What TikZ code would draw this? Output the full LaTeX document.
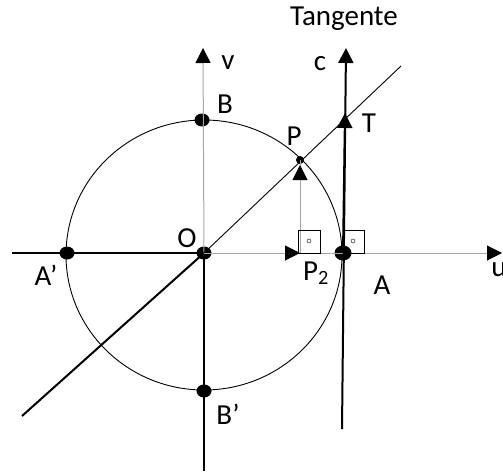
\documentclass[tikz,border=0pt]{standalone}
\usepackage{fontspec}
\setmainfont{Carlito}
\usetikzlibrary{arrows.meta, shapes.geometric}
\begin{document}
\begin{tikzpicture}[x=1pt, y=-1pt,
    dot/.style={fill=black, ellipse, inner sep=0pt, minimum width=15pt, minimum height=13pt},
    lbl/.style={font=\fontsize{29}{31}\selectfont, inner sep=0pt},
    tip/.style={-{Triangle[width=15pt, length=15pt, black]}},
    axis/.style={gray!70, line width=1pt},
    heavy/.style={line width=2pt}]
    \useasboundingbox (0,0) rectangle (503,471);
    % unit circle
    \draw[line width=0.9pt] (204,255) ellipse [x radius=138pt, y radius=135pt];
    % points on the circle
    \node[dot] (o) at (204,253) {};
    \node[dot] (a1) at (67,253) {};
    \node[dot] (b) at (202,120) {};
    \node[dot] (b1) at (204,391) {};
    \node[dot, minimum width=17pt, minimum height=15pt] (a) at (343,253) {};
    \node[dot, minimum width=8pt, minimum height=8pt] (p) at (300,160) {};
    \coordinate (p2) at (300,253);
    \coordinate (t) at (345,113);
    % free ends
    \coordinate (west) at (12,253);
    \coordinate (u) at (502,253);
    \coordinate (v) at (203,48);
    \coordinate (south) at (204,471);
    \coordinate (sw) at (22,416);
    \coordinate (ne) at (401,66);
    \coordinate (tbot) at (342,429);
    \coordinate (c) at (346,48);
    % axes
    \draw[heavy] (west) -- (o.center);
    \draw[axis, tip] (o.center) -- (u);
    \draw[axis, tip] (o.center) -- (v);
    \draw[heavy] (o.center) -- (south);
    % line through O and P
    \draw[heavy] (sw) -- (o.center);
    \draw[line width=0.9pt] (o.center) -- (ne);
    % tangent at A
    \draw[heavy, tip] (tbot) -- (c);
    \draw[heavy, tip] (a.center) -- (t);
    % projection of P
    \draw[axis] (p2) -- (p.center);
    \draw[axis, tip] (p2) -- ([yshift=-5pt]p.center);
    \draw[axis, tip] (o.center) -- (p2);
    % right angles
    \draw (298,230) rectangle (320,253);
    \draw (309,241) circle (2pt);
    \draw (343,230) rectangle (364,253);
    \draw (353,241) circle (2pt);
    % labels
    \node[lbl] (lt) at (344,19) {Tangente};
    \node[lbl] (lc) at (320,64) {c};
    \node[lbl] (lv) at (228,63) {v};
    \node[lbl] (lu) at (499,270) {u};
    \node[lbl] (ltt) at (369,123) {T};
    \node[lbl] (lp) at (294,136) {P};
    \node[lbl] (lp2) at (316,273) {P\textsubscript{2}};
    \node[lbl] (lo) at (187,238) {O};
    \node[lbl] (la) at (382,285) {A};
    \node[lbl] (la1) at (46,275) {A’};
    \node[lbl] (lb) at (225,104) {B};
    \node[lbl] (lb1) at (228,414) {B’};
\end{tikzpicture}
\end{document}
